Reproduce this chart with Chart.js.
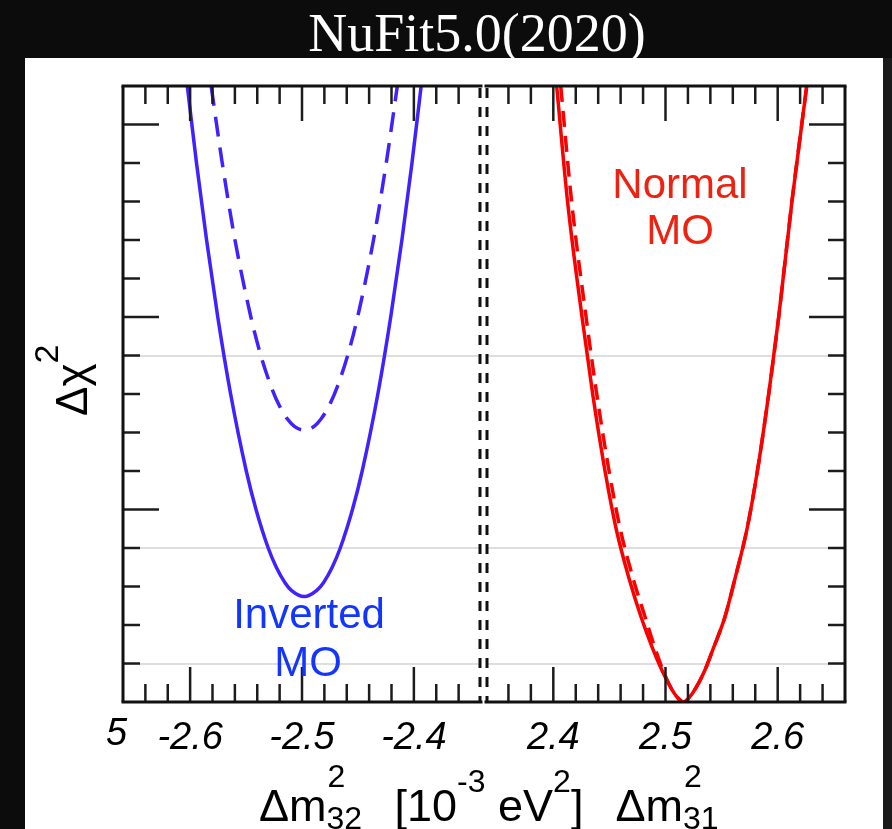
<!DOCTYPE html>
<html>
<head>
<meta charset="utf-8">
<script src="https://cdn.jsdelivr.net/npm/chart.js@4.4.1/dist/chart.umd.min.js"></script>
<style>
  body { margin: 0; width: 892px; height: 829px; background: #0c0c0c; position: relative; overflow: hidden; font-family: "Liberation Sans", Arial, sans-serif; }
  #title { position: absolute; left: 31px; top: 6px; width: 892px; text-align: center; color: #fff; font-family: "Liberation Serif", serif; font-size: 54px; line-height: 1; }
  #edge { position: absolute; left: 883px; top: 58px; width: 9px; height: 771px; background: #1a1a1a; }
  #sheet { position: absolute; left: 25px; top: 58px; width: 858px; height: 771px; background: #fff; }
  #left { position: absolute; left: 25px; top: 58px; }
  #right { position: absolute; left: 483px; top: 58px; }
  #ytitle { position: absolute; left: 50px; top: 416px; transform-origin: 0 0; transform: rotate(-90deg); font-size: 44px; line-height: 1; white-space: nowrap; color: #000; }
  #xtitle { position: absolute; left: 259px; top: 783px; font-size: 45px; line-height: 1; white-space: nowrap; color: #000; }
  .sup { position: relative; font-size: 32px; top: -29px; }
  .ss { display: inline-block; position: relative; width: 36px; height: 0; }
  .ss .hi { position: absolute; left: 1px; bottom: 29px; font-size: 32px; line-height: 1; }
  .ss .lo { position: absolute; left: 0; bottom: -13px; font-size: 32px; line-height: 1; }
  #cut { position: absolute; left: 106px; top: 713px; font-size: 38px; font-style: italic; line-height: 1; color: #000; }
</style>
</head>
<body>
<div id="title">NuFit5.0(2020)</div>
<div id="sheet"></div>
<div id="edge"></div>
<canvas id="left" width="458" height="771"></canvas>
<canvas id="right" width="400" height="771"></canvas>
<div id="ytitle">Δχ<span class="sup" style="font-size:34px">2</span></div>
<div id="xtitle">Δm<span class="ss"><span class="hi">2</span><span class="lo">32</span></span><span style="margin-left:32px">[10</span><span class="sup">-3</span> eV<span class="sup">2</span>]<span style="margin-left:32px">Δm</span><span class="ss"><span class="hi">2</span><span class="lo">31</span></span></div>
<div id="cut">5</div>
<script>
// tick positions
const xMajorIO = [-2.6, -2.5, -2.4];
const xMinorIO = [-2.64, -2.62, -2.58, -2.56, -2.54, -2.52, -2.48, -2.46, -2.44, -2.42, -2.38, -2.36];
const xMajorNO = [2.4, 2.5, 2.6];
const xMinorNO = [2.36, 2.38, 2.42, 2.44, 2.46, 2.48, 2.52, 2.54, 2.56, 2.58, 2.62, 2.64];
const yMajor = [5, 10, 15];
const yMinor = [1, 2, 3, 4, 6, 7, 8, 9, 11, 12, 13, 14];
const sigmaLevels = [1, 4, 9];

// inverted ordering, dm2_32
const ioSolidX = [-2.6025, -2.5943, -2.5853, -2.5753, -2.5638, -2.5498, -2.5411, -2.5302, -2.523, -2.5152, -2.5095, -2.498,
                  -2.4868, -2.4808, -2.473, -2.4658, -2.4549, -2.4462, -2.4322, -2.4207, -2.4107, -2.4017, -2.3935];
const ioSolidY = [16, 14, 12, 10, 8, 6, 5, 4, 3.5, 3.1, 2.9, 2.74,
                  2.9, 3.1, 3.5, 4, 5, 6, 8, 10, 12, 14, 16];
const ioDashX = [-2.5812, -2.5713, -2.5599, -2.5457, -2.5368, -2.5277, -2.5203, -2.513, -2.5068, -2.498,
                 -2.4892, -2.483, -2.4757, -2.4683, -2.4592, -2.4503, -2.4361, -2.4247, -2.4148];
const ioDashY = [16, 14, 12, 10, 9, 8.2, 7.7, 7.35, 7.16, 7.06,
                 7.16, 7.35, 7.7, 8.2, 9, 10, 12, 14, 16];

// normal ordering, dm2_31
const noSolidX = [2.403, 2.4127, 2.4256, 2.4351, 2.4461, 2.456, 2.4676, 2.4783, 2.4884, 2.4972, 2.5052, 2.5106, 2.516,
                  2.5212, 2.5267, 2.5347, 2.5427, 2.5529, 2.5619, 2.5727, 2.5819, 2.592, 2.6009, 2.6127, 2.6259];
const noSolidY = [16, 13, 10, 8, 6, 4.5, 3.2, 2.2, 1.4, 0.8, 0.35, 0.12, 0,
                  0.12, 0.35, 0.8, 1.4, 2.2, 3.2, 4.5, 6, 8, 10, 13, 16];
const noDashX = [2.4066, 2.4163, 2.4292, 2.4387, 2.4497, 2.4596, 2.4712, 2.4819, 2.4906, 2.4981, 2.5052, 2.5106, 2.516,
                 2.5212, 2.5267, 2.5347, 2.5427, 2.5529, 2.5619, 2.5727, 2.5819, 2.592, 2.6009, 2.6127, 2.6259];
const noDashY = [16, 13, 10, 8, 6, 4.5, 3.2, 2.2, 1.4, 0.8, 0.35, 0.12, 0,
                 0.12, 0.35, 0.8, 1.4, 2.2, 3.2, 4.5, 6, 8, 10, 13, 16];

const BLUE = "#3f22ff";
const RED = "#fa0000";
const FONT = '"Liberation Sans", Arial, sans-serif';

const toPoints = (xs, ys) => xs.map((x, i) => ({ x, y: ys[i] }));

function curve(xs, ys, color, width, dash) {
  return {
    data: toPoints(xs, ys),
    borderColor: color,
    borderWidth: width,
    borderDash: dash || [],
    pointRadius: 0,
    cubicInterpolationMode: "monotone",
    fill: false
  };
}

// frame with inward ticks, dashed inner border, and the in-plot labels
const framePlugin = {
  id: "frame",
  afterDatasetsDraw(chart, args, opts) {
    const { ctx, chartArea: a, scales: { x, y } } = chart;
    const seg = (x1, y1, x2, y2) => { ctx.beginPath(); ctx.moveTo(x1, y1); ctx.lineTo(x2, y2); ctx.stroke(); };
    ctx.save();
    ctx.strokeStyle = "#1c1c1c";
    ctx.lineWidth = 2.5;
    [[opts.xMajor, 35], [opts.xMinor, 18]].forEach(([vals, len]) => vals.forEach(v => {
      const px = x.getPixelForValue(v);
      seg(px, a.bottom, px, a.bottom - len);
      seg(px, a.top, px, a.top + len);
    }));
    const edge = opts.tickSide === "left" ? a.left : a.right;
    const dir = opts.tickSide === "left" ? 1 : -1;
    [[yMajor, 36], [yMinor, 17]].forEach(([vals, len]) => vals.forEach(v => {
      const py = y.getPixelForValue(v);
      seg(edge, py, edge + dir * len, py);
    }));

    ctx.strokeStyle = "#111";
    ctx.lineWidth = 3;
    seg(a.left - 1.5, a.top, a.right + 1.5, a.top);
    seg(a.left - 1.5, a.bottom, a.right + 1.5, a.bottom);
    seg(edge, a.top, edge, a.bottom);
    const inner = opts.tickSide === "left" ? a.right - 1 : a.left + 1;
    ctx.setLineDash([10, 9]);
    seg(inner, a.top + 2, inner, a.bottom);
    ctx.setLineDash([]);

    ctx.fillStyle = opts.textColor;
    ctx.font = "42px " + FONT;
    ctx.textAlign = "center";
    ctx.textBaseline = "alphabetic";
    opts.labels.forEach(l => ctx.fillText(l.text, x.getPixelForValue(l.x), y.getPixelForValue(l.y)));
    ctx.restore();
  }
};

function makeChart(id, datasets, xMin, xMax, xMajor, xMinor, padding, tickSide, labels, textColor) {
  return new Chart(document.getElementById(id), {
    type: "line",
    data: { datasets },
    options: {
      responsive: false,
      animation: false,
      devicePixelRatio: 1,
      events: [],
      layout: { padding },
      plugins: {
        legend: { display: false },
        tooltip: { enabled: false },
        frame: { xMajor, xMinor, tickSide, labels, textColor }
      },
      scales: {
        x: {
          type: "linear",
          min: xMin,
          max: xMax,
          afterBuildTicks: s => { s.ticks = xMajor.map(value => ({ value })); },
          afterFit: s => { s.height = 127; },
          grid: { display: false },
          border: { display: false },
          ticks: {
            autoSkip: false,
            maxRotation: 0,
            padding: 6,
            color: "#000",
            font: { family: FONT, size: 38, style: "italic" },
            callback: v => v.toFixed(1)
          }
        },
        y: {
          min: 0,
          max: 16,
          position: tickSide,
          afterBuildTicks: s => { s.ticks = sigmaLevels.map(value => ({ value })); },
          afterFit: s => { s.width = 0; },
          grid: { color: "#dedede", lineWidth: 2, drawTicks: false },
          border: { display: false },
          ticks: { display: false }
        }
      }
    },
    plugins: [framePlugin]
  });
}

makeChart("left",
  [curve(ioSolidX, ioSolidY, BLUE, 3.5), curve(ioDashX, ioDashY, BLUE, 3.5, [20, 11])],
  -2.66, -2.34, xMajorIO, xMinorIO,
  { left: 98, right: 2, top: 28, bottom: 0 }, "left",
  [{ text: "Inverted", x: -2.4937, y: 1.92 }, { text: "MO", x: -2.4946, y: 0.675 }],
  "#1236ff");

makeChart("right",
  [curve(noSolidX, noSolidY, RED, 3.5), curve(noDashX, noDashY, RED, 3.5, [16, 9])],
  2.34, 2.66, xMajorNO, xMinorNO,
  { left: 3, right: 38, top: 28, bottom: 0 }, "right",
  [{ text: "Normal", x: 2.5129, y: 13.1 }, { text: "MO", x: 2.5129, y: 11.9 }],
  "#ee2211");
</script>
</body>
</html>
